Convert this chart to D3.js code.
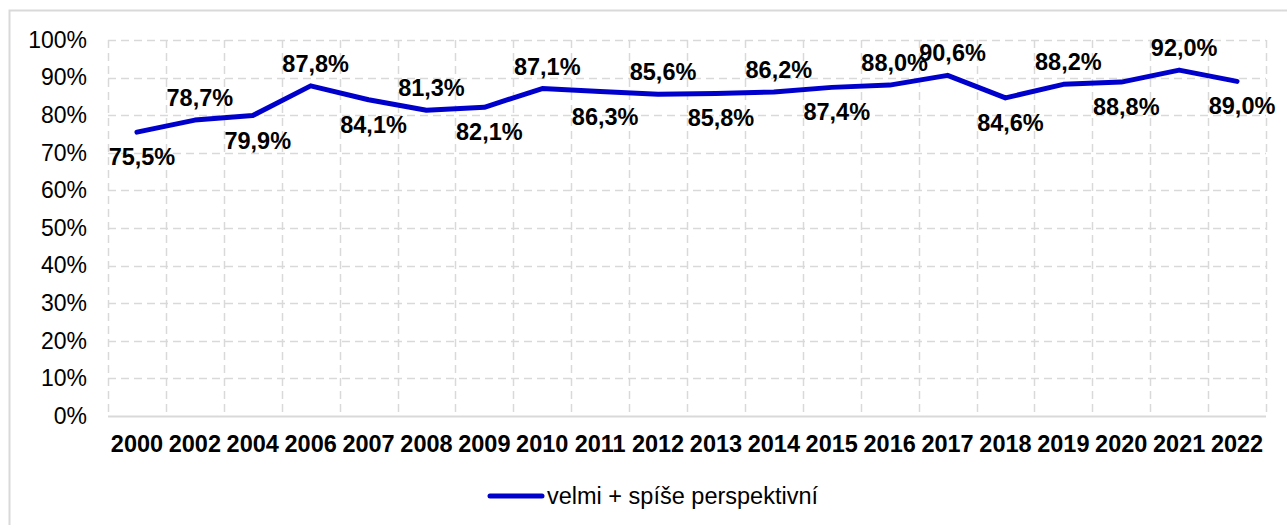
<!DOCTYPE html>
<html>
<head>
<meta charset="utf-8">
<script src="https://cdn.jsdelivr.net/npm/d3@7.9.0/dist/d3.min.js"></script>
<style>
  body { margin: 0; background: #fff; }
  svg { display: block; font-family: "Liberation Sans", Arial, sans-serif; }
</style>
</head>
<body>
<svg id="chart" width="1287" height="525"></svg>
<script>
const years = ['2000', '2002', '2004', '2006', '2007', '2008', '2009', '2010', '2011', '2012',
  '2013', '2014', '2015', '2016', '2017', '2018', '2019', '2020', '2021', '2022'];
const values = [75.5, 78.7, 79.9, 87.8, 84.1, 81.3, 82.1, 87.1, 86.3, 85.6,
  85.8, 86.2, 87.4, 88.0, 90.6, 84.6, 88.2, 88.8, 92.0, 89.0];
const labelSide = ['below', 'above', 'below', 'above', 'below', 'above', 'below', 'above', 'below', 'above',
  'below', 'above', 'below', 'above', 'above', 'below', 'above', 'below', 'above', 'below'];
const yTicks = [0, 10, 20, 30, 40, 50, 60, 70, 80, 90, 100];
const seriesName = 'velmi + spíše perspektivní';

const data = years.map((y, i) => ({ year: y, value: values[i], side: labelSide[i] }));

const margin = { left: 108, right: 21, top: 40, bottom: 109 };
const width = 1287, height = 525;

const svg = d3.select('#chart');

// outer chart border (right and bottom edges fall outside the picture)
svg.append('rect')
  .attr('x', 9.5).attr('y', 10.5)
  .attr('width', 1300).attr('height', 540)
  .attr('fill', 'none')
  .attr('stroke', '#d9d9d9')
  .attr('stroke-width', 2);

const x = d3.scaleBand()
  .domain(years)
  .range([margin.left, width - margin.right])
  .padding(0);

const y = d3.scaleLinear()
  .domain([0, 100])
  .range([height - margin.bottom, margin.top]);

const grid = svg.append('g').attr('class', 'grid');

// horizontal dashed gridlines
grid.selectAll('line.h')
  .data(yTicks.filter(d => d > 0))
  .join('line')
  .attr('class', 'h')
  .attr('x1', margin.left).attr('x2', width - margin.right)
  .attr('y1', d => Math.round(y(d)) + 0.5).attr('y2', d => Math.round(y(d)) + 0.5)
  .attr('stroke', '#d9d9d9')
  .attr('stroke-width', 1.5)
  .attr('stroke-dasharray', '8,5');

// vertical dashed gridlines at category boundaries
const bounds = years.map(d => x(d)).concat([x(years[years.length - 1]) + x.bandwidth()]);
grid.selectAll('line.v')
  .data(bounds)
  .join('line')
  .attr('class', 'v')
  .attr('x1', d => Math.round(d) + 0.5).attr('x2', d => Math.round(d) + 0.5)
  .attr('y1', y(100)).attr('y2', y(0))
  .attr('stroke', '#d9d9d9')
  .attr('stroke-width', 1.5)
  .attr('stroke-dasharray', '8,5');

// baseline
svg.append('line')
  .attr('x1', margin.left).attr('x2', width - margin.right)
  .attr('y1', Math.round(y(0)) + 0.5).attr('y2', Math.round(y(0)) + 0.5)
  .attr('stroke', '#d9d9d9')
  .attr('stroke-width', 2);

// y axis labels
const yAxis = d3.axisLeft(y)
  .tickValues(yTicks)
  .tickFormat(d => d + '%')
  .tickSize(0)
  .tickPadding(21);

svg.append('g')
  .attr('transform', `translate(${margin.left},0)`)
  .call(yAxis)
  .call(g => g.select('.domain').remove())
  .call(g => g.selectAll('text')
    .attr('font-family', '"Liberation Sans", Arial, sans-serif')
    .attr('font-size', 23)
    .attr('fill', '#000'));

// x axis labels
const xAxis = d3.axisBottom(x).tickSize(0).tickPadding(19);
svg.append('g')
  .attr('transform', `translate(0,${y(0)})`)
  .call(xAxis)
  .call(g => g.select('.domain').remove())
  .call(g => g.selectAll('text')
    .attr('font-family', '"Liberation Sans", Arial, sans-serif')
    .attr('font-size', 23.5)
    .attr('font-weight', 'bold')
    .attr('fill', '#000'));

// series line
const line = d3.line()
  .x(d => x(d.year) + x.bandwidth() / 2)
  .y(d => y(d.value));

svg.append('path')
  .datum(data)
  .attr('d', line)
  .attr('fill', 'none')
  .attr('stroke', '#0000cc')
  .attr('stroke-width', 5)
  .attr('stroke-linejoin', 'round')
  .attr('stroke-linecap', 'round');

// data labels
const fmt = v => v.toFixed(1).replace('.', ',') + '%';
svg.append('g')
  .selectAll('text')
  .data(data)
  .join('text')
  .attr('x', d => x(d.year) + x.bandwidth() / 2 + 5)
  .attr('y', d => y(d.value) + (d.side === 'above' ? -14 : 33))
  .attr('text-anchor', 'middle')
  .attr('font-size', 23.5)
  .attr('font-weight', 'bold')
  .attr('fill', '#000')
  .text(d => fmt(d.value));

// legend
const legend = svg.append('g').attr('transform', 'translate(488,496)');
legend.append('line')
  .attr('x1', 2).attr('x2', 54)
  .attr('y1', 0).attr('y2', 0)
  .attr('stroke', '#0000cc')
  .attr('stroke-width', 5)
  .attr('stroke-linecap', 'round');
legend.append('text')
  .attr('x', 59).attr('y', 8)
  .attr('font-size', 23.5)
  .attr('fill', '#000')
  .text(seriesName);
</script>
</body>
</html>
